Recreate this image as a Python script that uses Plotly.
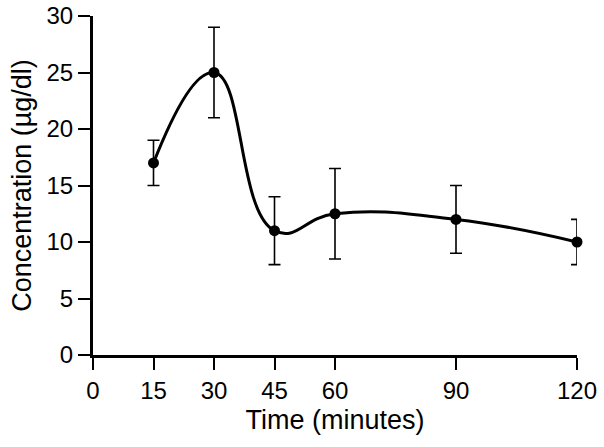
import plotly.graph_objects as go

time_min = [15, 30, 45, 60, 90, 120]
concentration = [17, 25, 11, 12.5, 12, 10]
err_upper = [2, 4, 3, 4, 3, 2]
err_lower = [2, 4, 3, 4, 3, 2]
x_ticks = [0, 15, 30, 45, 60, 90, 120]
y_ticks = [0, 5, 10, 15, 20, 25, 30]

fig = go.Figure()
fig.add_trace(go.Scatter(
    x=time_min, y=concentration,
    mode="lines+markers",
    line=dict(shape="spline", smoothing=1.3, color="black", width=3),
    marker=dict(size=11, color="black"),
    error_y=dict(type="data", symmetric=False, array=err_upper, arrayminus=err_lower,
                 color="black", thickness=1.6, width=6),
    cliponaxis=False,
    showlegend=False,
))

font_family = "Liberation Sans, Arial, sans-serif"
fig.update_layout(
    width=604, height=447,
    margin=dict(l=93, r=27, t=16, b=92),
    paper_bgcolor="white", plot_bgcolor="white",
    font=dict(family=font_family, color="black"),
    xaxis=dict(
        range=[0, 120], tickmode="array", tickvals=x_ticks,
        ticktext=[str(v) for v in x_ticks],
        showline=True, linecolor="black", linewidth=3,
        ticks="outside", ticklen=12, tickwidth=2, tickcolor="black",
        showgrid=False, zeroline=False, automargin=False,
        ticklabeloverflow="allow",
        tickfont=dict(size=24),
        title=dict(text="Time (minutes)", font=dict(size=27), standoff=8),
    ),
    yaxis=dict(
        range=[0, 30], tickmode="array", tickvals=y_ticks,
        showline=True, linecolor="black", linewidth=3,
        ticks="outside", ticklen=12, tickwidth=2, tickcolor="black",
        showgrid=False, zeroline=False, automargin=False,
        ticklabeloverflow="allow",
        tickfont=dict(size=24),
        title=dict(text="Concentration (µg/dl)", font=dict(size=27), standoff=8),
    ),
)
fig.write_html("out.html", config={"displayModeBar": False},
               post_script="document.body.style.margin='0px';")
